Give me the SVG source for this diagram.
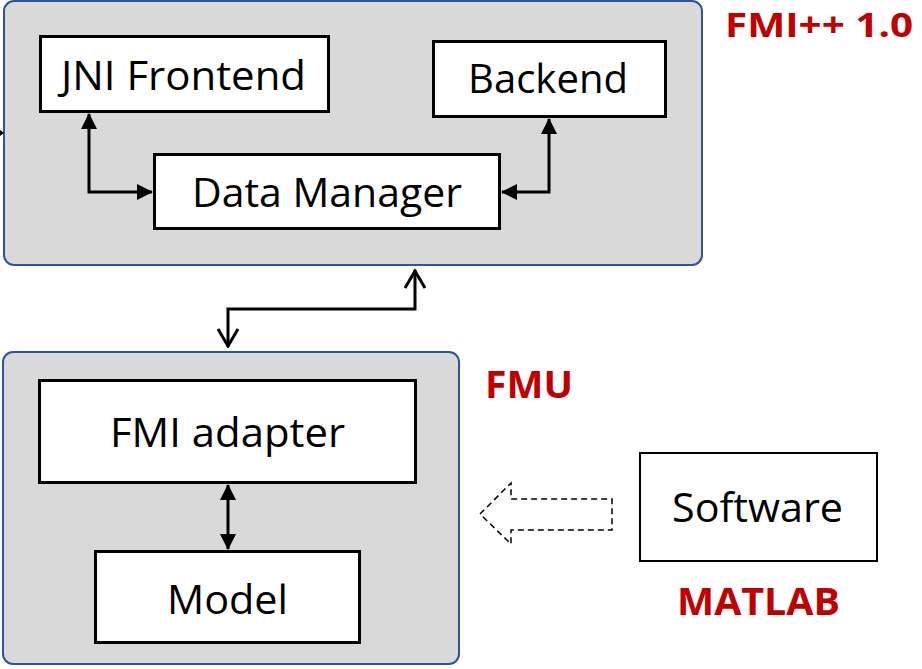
<svg xmlns="http://www.w3.org/2000/svg" width="922" height="669" viewBox="0 0 922 669">
  <style>
    .container { fill: #d9d9d9; stroke: #2f5597; stroke-width: 2; }
    .box { fill: #ffffff; stroke: #000000; stroke-width: 3; }
    .label { font-family: "Open Sans", "Noto Sans", sans-serif; font-size: 41px; fill: #000000; }
    .title { font-family: "Open Sans", "Noto Sans", sans-serif; font-size: 37px; font-weight: 700; fill: #c00000; }
    .link { fill: none; stroke: #000000; stroke-width: 3; }
    .dashed { fill: #ffffff; stroke: #000000; stroke-width: 1.5; stroke-dasharray: 6 4; }
  </style>
  <defs>
    <marker id="solid" viewBox="0 0 16 16" refX="15" refY="8" markerWidth="16" markerHeight="16" markerUnits="userSpaceOnUse" orient="auto-start-reverse">
      <path d="M0,0 L16,8 L0,16 Z" fill="#000000"/>
    </marker>
    <marker id="open" viewBox="0 0 20 22" refX="19" refY="11" markerWidth="20" markerHeight="22" markerUnits="userSpaceOnUse" orient="auto-start-reverse">
      <path d="M1,1 L18,11 L1,21" fill="none" stroke="#000000" stroke-width="3"/>
    </marker>
  </defs>

  <rect width="922" height="669" fill="#ffffff"/>

  <!-- FMI++ container -->
  <g id="fmipp">
    <rect class="container" x="4" y="1" width="698" height="264" rx="10"/>
    <text class="title" x="725" y="37" textLength="188" lengthAdjust="spacingAndGlyphs" style="font-size:34px">FMI++ 1.0</text>
  </g>

  <!-- FMU container -->
  <g id="fmu">
    <rect class="container" x="3" y="352" width="456" height="312" rx="10"/>
    <text class="title" x="485" y="398" textLength="88" lengthAdjust="spacingAndGlyphs">FMU</text>
  </g>

  <!-- stub arrow tip entering at the left edge -->
  <path d="M0,130 L4,133 L0,136 Z" fill="#000000"/>

  <g id="jni-frontend">
    <rect class="box" x="40.5" y="36.5" width="288" height="75"/>
    <text class="label" x="61" y="90" textLength="245" lengthAdjust="spacingAndGlyphs">JNI Frontend</text>
  </g>

  <g id="backend">
    <rect class="box" x="433.5" y="41.5" width="232" height="75"/>
    <text class="label" x="468" y="93" textLength="160" lengthAdjust="spacingAndGlyphs">Backend</text>
  </g>

  <g id="data-manager">
    <rect class="box" x="154.5" y="154.5" width="345" height="74"/>
    <text class="label" x="192" y="207" textLength="270" lengthAdjust="spacingAndGlyphs">Data Manager</text>
  </g>

  <g id="fmi-adapter">
    <rect class="box" x="39.5" y="380.5" width="376" height="102"/>
    <text class="label" x="110" y="447" textLength="235" lengthAdjust="spacingAndGlyphs">FMI adapter</text>
  </g>

  <g id="model">
    <rect class="box" x="95.5" y="551.5" width="264" height="91"/>
    <text class="label" x="167" y="614" textLength="121" lengthAdjust="spacingAndGlyphs">Model</text>
  </g>

  <g id="software">
    <rect class="box" x="640" y="453" width="237" height="108" style="stroke-width:2"/>
    <text class="label" x="672" y="522" textLength="171" lengthAdjust="spacingAndGlyphs">Software</text>
    <text class="title" x="677" y="615" textLength="163" lengthAdjust="spacingAndGlyphs">MATLAB</text>
  </g>

  <!-- connectors -->
  <g id="connectors">
    <path class="link" d="M89,114 V192 H152" marker-start="url(#solid)" marker-end="url(#solid)"/>
    <path class="link" d="M549,119 V192 H502" marker-start="url(#solid)" marker-end="url(#solid)"/>
    <path class="link" d="M228,485 V549" marker-start="url(#solid)" marker-end="url(#solid)"/>
    <path class="link" d="M228,347 V309 H415 V270" marker-start="url(#open)" marker-end="url(#open)"/>
    <path class="dashed" d="M480,514 L511,483 L511,499 L612,499 L612,530 L511,530 L511,544 Z"/>
  </g>
</svg>
